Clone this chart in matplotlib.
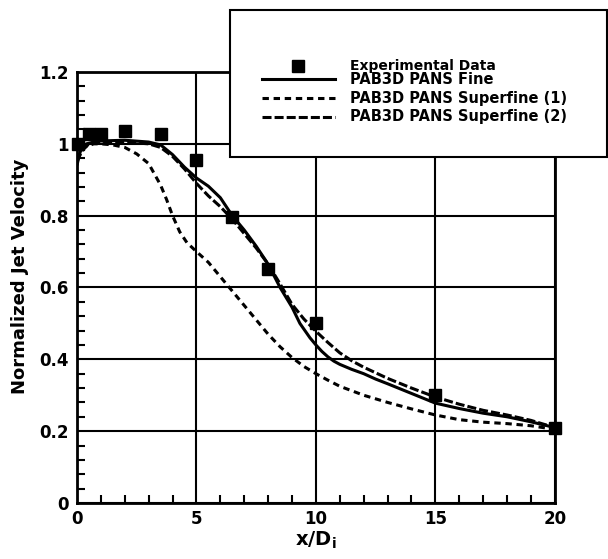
import matplotlib
matplotlib.use("Agg")
import matplotlib.pyplot as plt
from matplotlib.lines import Line2D
from matplotlib.patches import Rectangle
from matplotlib.ticker import MultipleLocator

plt.rcParams['font.family'] = ['DejaVu Sans']
plt.rcParams['font.weight'] = 'bold'
plt.rcParams['mathtext.fontset'] = 'custom'
plt.rcParams['mathtext.rm'] = 'DejaVu Sans:bold'
plt.rcParams['mathtext.bf'] = 'DejaVu Sans:bold'
plt.rcParams['lines.scale_dashes'] = False

# experimental data (squares)
x_exp = [0.05, 0.5, 1.0, 2.0, 3.5, 5.0, 6.5, 8.0, 10.0, 15.0, 20.0]
y_exp = [1.0, 1.028, 1.028, 1.035, 1.028, 0.955, 0.795, 0.652, 0.50, 0.30, 0.21]

# PAB3D PANS Fine (solid)
x_fine = [0, 0.1, 0.2, 0.4, 0.7, 1, 2, 3, 3.5, 4, 4.5, 5, 5.5, 6, 6.5, 7, 7.5, 8, 8.5, 9,
          9.33, 9.75, 10, 10.25, 10.5, 10.75, 11, 11.5, 12, 12.5, 13, 14, 15, 16, 17, 18, 19, 20]
y_fine = [0.94, 0.97, 0.99, 1.0, 1.005, 1.008, 1.01, 1.005, 0.997, 0.97, 0.935, 0.905, 0.882, 0.85, 0.80,
          0.76, 0.715, 0.665, 0.60, 0.545, 0.50, 0.46, 0.44, 0.422, 0.407, 0.395, 0.386, 0.372, 0.36,
          0.345, 0.332, 0.305, 0.278, 0.263, 0.25, 0.24, 0.226, 0.21]

# PAB3D PANS Superfine (1) (short dashes)
x_sf1 = [0, 0.3, 0.7, 1, 1.5, 2, 2.5, 3, 3.5, 3.75, 4, 4.3, 4.6, 5, 5.5, 6, 6.5, 7, 7.5, 8,
         8.5, 9, 9.5, 10, 10.5, 11, 12, 13, 14, 15, 16, 17, 18, 19, 20]
y_sf1 = [0.955, 0.99, 1.0, 1.0, 0.997, 0.99, 0.972, 0.945, 0.885, 0.845, 0.80, 0.755, 0.725, 0.70, 0.67,
         0.63, 0.59, 0.55, 0.51, 0.47, 0.435, 0.405, 0.38, 0.36, 0.342, 0.325, 0.30, 0.28, 0.262,
         0.245, 0.232, 0.225, 0.221, 0.215, 0.205]

# PAB3D PANS Superfine (2) (long dashes)
x_sf2 = [0, 0.2, 0.5, 1, 2, 3, 3.5, 4, 4.5, 5, 5.5, 6, 6.5, 7, 7.5, 8, 8.5, 9, 9.5, 10,
         10.5, 11, 11.5, 12, 13, 14, 15, 16, 17, 18, 19, 20]
y_sf2 = [0.95, 0.98, 1.0, 1.005, 1.005, 1.0, 0.99, 0.965, 0.93, 0.89, 0.855, 0.825, 0.79, 0.75, 0.71,
         0.665, 0.61, 0.553, 0.512, 0.478, 0.447, 0.418, 0.396, 0.378, 0.347, 0.32, 0.295, 0.275, 0.258,
         0.245, 0.23, 0.21]

x_ticks = [0, 5, 10, 15, 20]
y_ticks = [0, 0.2, 0.4, 0.6, 0.8, 1.0, 1.2]
y_ticklabels = ['0', '0.2', '0.4', '0.6', '0.8', '1', '1.2']

fig = plt.figure(figsize=(6.08, 5.59), dpi=100)
ax = fig.add_axes([0.1266, 0.1002, 0.786, 0.771])

lw = 2.2
ax.plot(x_fine, y_fine, color='black', lw=lw, solid_capstyle='butt')
ax.plot(x_sf1, y_sf1, color='black', lw=lw, dashes=(4.6, 3.4))
ax.plot(x_sf2, y_sf2, color='black', lw=lw, dashes=(6.5, 2.2))
ax.plot(x_exp, y_exp, 's', color='black', ms=8, clip_on=False, zorder=5)

ax.set_xlim(0, 20)
ax.set_ylim(0, 1.2)
ax.set_xticks(x_ticks)
ax.set_xticklabels([str(v) for v in x_ticks])
ax.set_yticks(y_ticks)
ax.set_yticklabels(y_ticklabels)
ax.xaxis.set_minor_locator(MultipleLocator(1))
ax.yaxis.set_minor_locator(MultipleLocator(0.04))
ax.tick_params(which='both', direction='in', top=False, right=False, width=1.5,
               labelsize=12)
ax.tick_params(axis='y', pad=6)
ax.tick_params(axis='x', pad=5)
ax.tick_params(which='major', length=0)
ax.tick_params(which='minor', length=6)
ax.grid(True, which='major', color='black', lw=1.5)
for s in ax.spines.values():
    s.set_linewidth(2)

ax.set_xlabel(r'x/D$_{\mathrm{i}}$', fontsize=14, fontweight='bold', labelpad=1)
ax.set_ylabel('Normalized Jet Velocity', fontsize=13, fontweight='bold', labelpad=7)
ax.yaxis.label.set_y(0.525)

# legend box
box = Rectangle((0.378, 0.719), 0.62, 0.263, transform=fig.transFigure,
                facecolor='white', edgecolor='black', lw=1.5, zorder=10)
fig.add_artist(box)

labels = ['Experimental Data', 'PAB3D PANS Fine', 'PAB3D PANS Superfine (1)',
          'PAB3D PANS Superfine (2)']
rows_px = [66, 79, 98, 117]
styles = [None, '-', (4.6, 3.4), (6.5, 2.2)]
for lab, ypx, st in zip(labels, rows_px, styles):
    yf = 1 - ypx / 559
    if st is None:
        fig.add_artist(Line2D([298 / 608], [yf], marker='s', ms=8, color='black',
                              ls='none', transform=fig.transFigure, zorder=11))
        fs = 10
    else:
        ln = Line2D([262 / 608, 335 / 608], [yf, yf], color='black', lw=lw,
                    transform=fig.transFigure, zorder=11)
        if st != '-':
            ln.set_dashes(st)
        fig.add_artist(ln)
        fs = 10.5
    fig.text(350 / 608, yf, lab, fontsize=fs, fontweight='bold', va='center',
             ha='left', zorder=12)

fig.savefig('out.png', dpi=100)
